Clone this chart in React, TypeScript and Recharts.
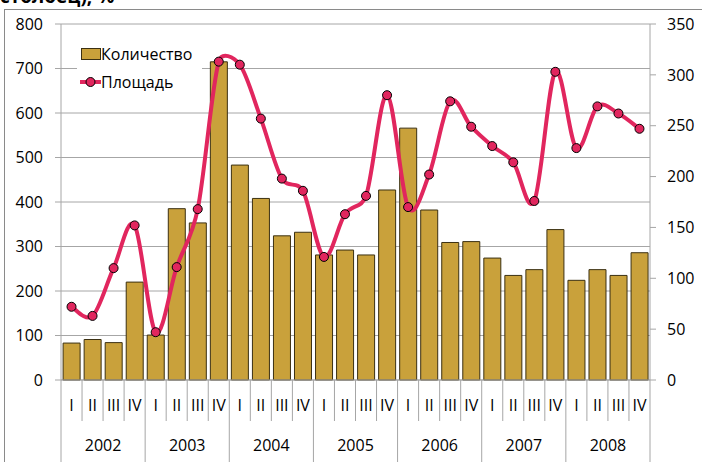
import React from 'react';
import {
  ComposedChart,
  Bar,
  Line,
  XAxis,
  YAxis,
  CartesianGrid,
  Legend,
} from 'recharts';

// подписи оси X
const quarters = ['I', 'II', 'III', 'IV'];
const years = ['2002', '2003', '2004', '2005', '2006', '2007', '2008'];

// столбцы (левая ось)
const counts = [
  83, 91, 84, 220,
  101, 385, 353, 715,
  483, 408, 324, 332,
  281, 292, 281, 427,
  566, 382, 309, 311,
  274, 235, 248, 338,
  224, 248, 235, 286,
];

// линия (правая ось)
const areas = [
  72, 63, 110, 152,
  47, 111, 168, 313,
  310, 257, 198, 186,
  121, 163, 181, 280,
  170, 202, 274, 249,
  230, 214, 176, 303,
  228, 269, 262, 247,
];

const leftTicks = [0, 100, 200, 300, 400, 500, 600, 700, 800];
const rightTicks = [0, 50, 100, 150, 200, 250, 300, 350];

const W = 702;
const H = 462;
const LEFT_W = 61;
const RIGHT_W = 52;
const TOP = 24;
const XAXIS_H = 82;
const PLOT_BOTTOM = H - XAXIS_H;
const BAND = (W - LEFT_W - RIGHT_W) / counts.length;

const FONT = '"Open Sans", sans-serif';
const FS = 16;
const GOLD = '#C9A13B';
const GOLD_EDGE = '#3b3012';
const PINK = '#E1265E';
const GRID = '#a6a6a6';

const data = counts.map((c, i) => ({
  q: quarters[i % 4],
  year: years[Math.floor(i / 4)],
  count: c,
  area: areas[i],
}));

// сглаживание как в Excel (кардинальный сплайн, с ограничением выброса)
function excelSmooth(context: any) {
  let pts: [number, number][] = [];
  return {
    areaStart() {},
    areaEnd() {},
    lineStart() {
      pts = [];
    },
    lineEnd() {
      const n = pts.length;
      if (!n) return;
      context.moveTo(pts[0][0], pts[0][1]);
      for (let i = 0; i < n - 1; i++) {
        const p0 = pts[Math.max(i - 1, 0)];
        const p1 = pts[i];
        const p2 = pts[i + 1];
        const p3 = pts[Math.min(i + 2, n - 1)];
        const seg = Math.hypot(p2[0] - p1[0], p2[1] - p1[1]);
        let ax = (p2[0] - p0[0]) / 6;
        let ay = (p2[1] - p0[1]) / 6;
        let bx = (p3[0] - p1[0]) / 6;
        let by = (p3[1] - p1[1]) / 6;
        const la = Math.hypot(ax, ay);
        const lb = Math.hypot(bx, by);
        const lim = seg * 0.5;
        if (la > lim) {
          ax *= lim / la;
          ay *= lim / la;
        }
        if (lb > lim) {
          bx *= lim / lb;
          by *= lim / lb;
        }
        context.bezierCurveTo(p1[0] + ax, p1[1] + ay, p2[0] - bx, p2[1] - by, p2[0], p2[1]);
      }
    },
    point(x: number, y: number) {
      pts.push([+x, +y]);
    },
  };
}

const QuarterTick = ({ x, payload }: any) => {
  const i = payload.index;
  const right = x + BAND / 2;
  const yearEnd = i % 4 === 3;
  return (
    <g>
      {i === 0 && (
        <line x1={x - BAND / 2} x2={x - BAND / 2} y1={PLOT_BOTTOM} y2={H} stroke={GRID} />
      )}
      <line x1={right} x2={right} y1={PLOT_BOTTOM} y2={yearEnd ? H : PLOT_BOTTOM + 41} stroke={GRID} />
      <text x={x} y={411} textAnchor="middle" fontSize={FS} fontFamily={FONT} fill="#000">
        {payload.value}
      </text>
      {i % 4 === 1 && (
        <text x={right} y={451} textAnchor="middle" fontSize={FS} fontFamily={FONT} fill="#000">
          {data[i].year}
        </text>
      )}
    </g>
  );
};

const LegendBox = () => (
  <div style={{ fontFamily: FONT, fontSize: FS, color: '#000', lineHeight: '28px' }}>
    <div style={{ display: 'flex', alignItems: 'center' }}>
      <svg width={24} height={14}>
        <rect x={4.5} y={1.5} width={19} height={11} fill={GOLD} stroke={GOLD_EDGE} />
      </svg>
      <span>Количество</span>
    </div>
    <div style={{ display: 'flex', alignItems: 'center' }}>
      <svg width={24} height={14}>
        <line x1={3} x2={24} y1={7} y2={7} stroke={PINK} strokeWidth={4} />
        <circle cx={13.5} cy={7} r={4.5} fill={PINK} stroke="#000" strokeWidth={1} />
      </svg>
      <span>Площадь</span>
    </div>
  </div>
);

export default function App() {
  return (
    <div style={{ position: 'absolute', left: 0, top: 0, width: W, height: H, background: '#fff', overflow: 'hidden' }}>
      <div
        style={{
          position: 'absolute',
          left: 4,
          top: 9,
          width: W + 20,
          height: H + 20,
          borderLeft: '1px solid #8a8a8a',
          borderTop: '1px solid #8a8a8a',
        }}
      />
      <div
        style={{
          position: 'absolute',
          left: 0,
          top: -16,
          fontFamily: FONT,
          fontWeight: 700,
          fontSize: 19,
          lineHeight: '24px',
          color: '#000',
          whiteSpace: 'nowrap',
        }}
      >
        столбец), %
      </div>
      <div style={{ position: 'absolute', left: 0, top: 0 }}>
        <ComposedChart width={W} height={H} data={data} margin={{ top: TOP, right: 0, bottom: 0, left: 0 }}>
          <CartesianGrid yAxisId="left" vertical={false} stroke={GRID} />
          <XAxis
            dataKey="q"
            height={XAXIS_H}
            interval={0}
            tickLine={false}
            axisLine={{ stroke: GRID }}
            tick={<QuarterTick />}
          />
          <YAxis
            yAxisId="left"
            width={LEFT_W}
            domain={[0, 800]}
            ticks={leftTicks}
            interval={0}
            tickSize={6}
            tickMargin={12}
            axisLine={{ stroke: GRID }}
            tickLine={{ stroke: GRID }}
            tick={{ fill: '#000', fontSize: FS, fontFamily: FONT }}
          />
          <YAxis
            yAxisId="right"
            orientation="right"
            width={RIGHT_W}
            domain={[0, 350]}
            ticks={rightTicks}
            interval={0}
            tickSize={6}
            tickMargin={11}
            axisLine={{ stroke: GRID }}
            tickLine={{ stroke: GRID }}
            tick={{ fill: '#000', fontSize: FS, fontFamily: FONT, textAnchor: 'start' }}
          />
          <Legend
            layout="horizontal"
            verticalAlign="middle"
            align="center"
            content={<LegendBox />}
            wrapperStyle={{ left: 77, top: 39, width: 125, height: 58, background: '#fff', paddingTop: 1 }}
          />
          <Bar
            yAxisId="left"
            dataKey="count"
            name="Количество"
            fill={GOLD}
            stroke={GOLD_EDGE}
            strokeWidth={1}
            barCategoryGap="10%"
            isAnimationActive={false}
          />
          <Line
            yAxisId="right"
            dataKey="area"
            name="Площадь"
            type={excelSmooth as any}
            stroke={PINK}
            strokeWidth={4}
            dot={{ r: 4.5, fill: PINK, stroke: '#000', strokeWidth: 1 }}
            isAnimationActive={false}
          />
        </ComposedChart>
      </div>
    </div>
  );
}
